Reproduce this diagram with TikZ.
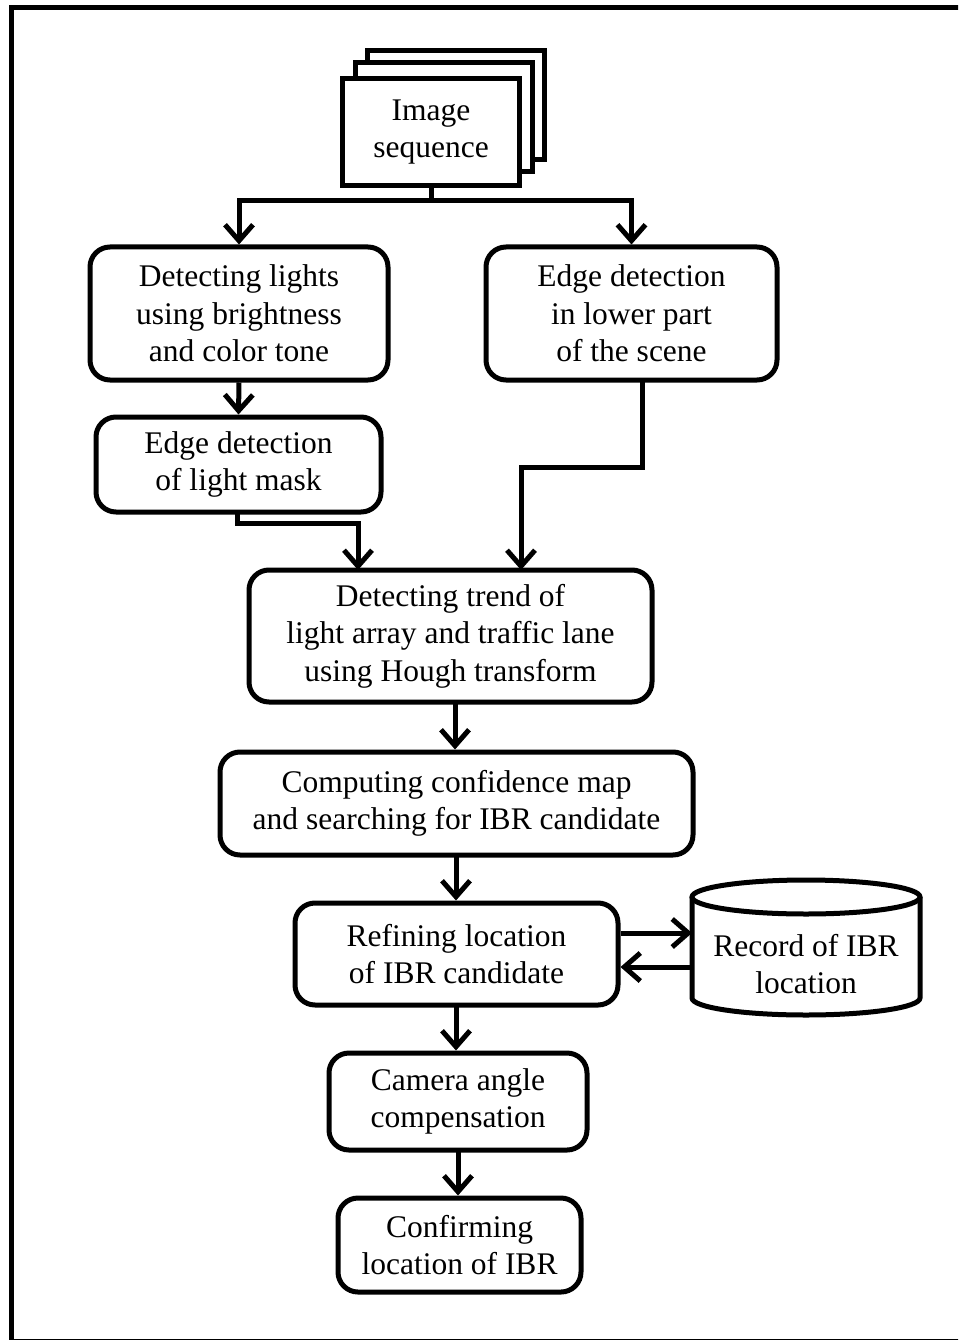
\documentclass[tikz,border=0pt]{standalone}
\usepackage{fontspec}
\setmainfont{Liberation Serif}
\usetikzlibrary{arrows.meta}
\begin{document}
\begin{tikzpicture}[x=1pt,y=-1pt,
  line width=5pt,
  every node/.style={font=\fontsize{31.5}{37.5}\selectfont, align=center, inner sep=0pt},
  procbox/.style={draw, rounded corners=20pt},
  stackbox/.style={draw, fill=white},
  flow/.style={-{Straight Barb[length=16pt,width=28pt]}, line join=miter},
]
\useasboundingbox (0,0) rectangle (958,1340);
\clip (0,0) rectangle (958,1340);
% outer frame
\draw (11.5,8) rectangle (985,1341);

% stacked image frames
\draw[stackbox] (367,51) rectangle (544,160);
\draw[stackbox] (355,63) rectangle (532,172);
\node[stackbox, minimum width=177pt, minimum height=107pt] (seq) at (431,132) {Image\\sequence};

% process boxes
\node[procbox, minimum width=298pt, minimum height=133pt] (lights) at (239,313.5) {Detecting lights\\using brightness\\and color tone};
\node[procbox, minimum width=291pt, minimum height=133pt] (lower) at (631.5,313.5) {Edge detection\\in lower part\\of the scene};
\node[procbox, minimum width=285pt, minimum height=95pt] (mask) at (238.5,464.5) {Edge detection\\of light mask};
\node[procbox, minimum width=403pt, minimum height=132pt] (trend) at (450.5,636) {Detecting trend of\\light array and traffic lane\\using Hough transform};
\node[procbox, minimum width=473pt, minimum height=103pt] (conf) at (456.5,803.5) {Computing confidence map\\and searching for IBR candidate};
\node[procbox, minimum width=323pt, minimum height=102pt] (refine) at (456.5,954) {Refining location\\of IBR candidate};
\node[procbox, minimum width=258pt, minimum height=97pt] (camera) at (458,1101.5) {Camera angle\\compensation};
\node[procbox, minimum width=243pt, minimum height=94pt] (confirm) at (459.5,1245) {Confirming\\location of IBR};

% record store (cylinder)
\coordinate (dbtl) at (692,897);
\coordinate (dbtr) at (920,897);
\draw (dbtl) -- (692,998) arc[start angle=180, end angle=0, x radius=114, y radius=17] -- (dbtr);
\draw (806,897) ellipse[x radius=114, y radius=17];
\node (record) at (806,964) {Record of IBR\\location};
\coordinate (dbin) at (692,933);
\coordinate (dbout) at (692,967);

% connectors
\coordinate (split) at (431,201);
\draw (seq.south) -- (split);
\draw[flow] (split) -| (lights.north);
\draw[flow] (split) -| (lower.north);
\draw[flow] (lights.south) -- (mask.north);
\coordinate (maskout) at (237,512);
\coordinate (trendinl) at (358,570);
\coordinate (trendinr) at (521,570);
\draw[flow] (maskout) |- (358,523) -- (trendinl);
\coordinate (lowout) at (642,380);
\draw[flow] (lowout) |- (521,467) -- (trendinr);
\coordinate (trendout) at (455,702);
\draw[flow] (trendout) -- (trendout |- conf.north);
\coordinate (confout) at (456,855);
\draw[flow] (confout) -- (confout |- refine.north);
\draw[flow] (refine.east |- dbin) -- (dbin);
\draw[flow] (dbout) -- (refine.east |- dbout);
\coordinate (refout) at (456,1005);
\draw[flow] (refout) -- (refout |- camera.north);
\coordinate (camout) at (458,1150);
\draw[flow] (camout) -- (camout |- confirm.north);
\end{tikzpicture}
\end{document}
